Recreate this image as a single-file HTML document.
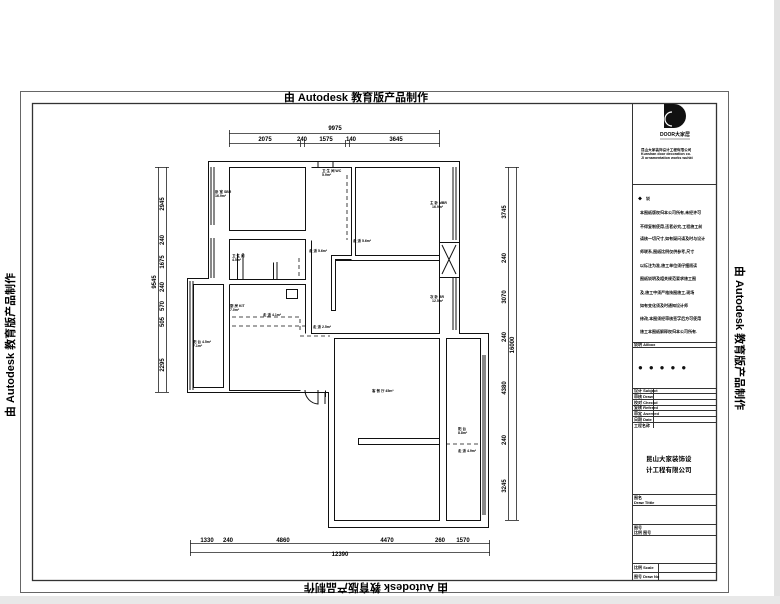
<!DOCTYPE html>
<html><head><meta charset="utf-8"><style>
html,body{margin:0;padding:0;background:#fff;}
svg{display:block;font-family:"Liberation Sans","Noto Sans CJK SC",sans-serif;}
</style></head><body>
<svg width="780" height="604" viewBox="0 0 780 604" xmlns="http://www.w3.org/2000/svg">
<rect x="0" y="0" width="780" height="604" fill="#fff"/>
<rect x="774" y="0" width="6" height="604" fill="#e2e2e2"/>
<rect x="0" y="596" width="780" height="8" fill="#e8e8e8"/>
<!-- frames -->
<rect x="20.5" y="91.5" width="708" height="501" fill="none" stroke="#666" stroke-width="1"/>
<rect x="32.5" y="103.5" width="684" height="477" fill="none" stroke="#333" stroke-width="1.3"/>
<!-- watermark texts -->
<text x="356" y="101" font-size="11" font-weight="bold" text-anchor="middle">由 Autodesk 教育版产品制作</text>
<text transform="translate(376,584) rotate(180)" font-size="11" font-weight="bold" text-anchor="middle">由 Autodesk 教育版产品制作</text>
<text transform="translate(14,345) rotate(-90)" font-size="11" font-weight="bold" text-anchor="middle">由 Autodesk 教育版产品制作</text>
<text transform="translate(736,338) rotate(90)" font-size="11" font-weight="bold" text-anchor="middle">由 Autodesk 教育版产品制作</text>

<!-- title block -->
<g stroke="#333" stroke-width="1" fill="none">
<line x1="632.5" y1="103" x2="632.5" y2="580"/>
<line x1="632" y1="184.5" x2="716" y2="184.5"/>
<line x1="632" y1="342.5" x2="716" y2="342.5"/>
<line x1="632" y1="347.5" x2="716" y2="347.5"/>
<line x1="632" y1="388.5" x2="716" y2="388.5"/>
<line x1="632" y1="393.5" x2="716" y2="393.5"/>
<line x1="632" y1="399.5" x2="716" y2="399.5"/>
<line x1="632" y1="405.5" x2="716" y2="405.5"/>
<line x1="632" y1="410.5" x2="716" y2="410.5"/>
<line x1="632" y1="416.5" x2="716" y2="416.5"/>
<line x1="632" y1="422.5" x2="716" y2="422.5"/>
<line x1="653.5" y1="388" x2="653.5" y2="428"/>
<line x1="632" y1="494.5" x2="716" y2="494.5"/>
<line x1="632" y1="505.5" x2="716" y2="505.5"/>
<line x1="632" y1="524.5" x2="716" y2="524.5"/>
<line x1="632" y1="535.5" x2="716" y2="535.5"/>
<line x1="632" y1="563.5" x2="716" y2="563.5"/>
<line x1="632" y1="572.5" x2="716" y2="572.5"/>
<line x1="658.5" y1="563" x2="658.5" y2="580"/>
</g>
<path d="M664 104 h10 a12 12 0 0 1 0 24 h-10 z" fill="#111"/>
<path d="M672 112 a7 7 0 0 0 0 14" fill="none" stroke="#fff" stroke-width="1.2"/>
<text x="675" y="136" font-size="5" font-weight="bold" text-anchor="middle">DOOR大家居</text>
<line x1="660" y1="139" x2="690" y2="139" stroke="#333" stroke-width="0.6"/>
<g font-size="3.6" font-weight="bold">
<text x="641" y="151">昆山大家装饰设计工程有限公司</text>
<text x="641" y="155">Kunshan door decoration co.</text>
<text x="641" y="159">Jl ornamentation works wuhkt</text>
</g>
<g font-size="4" font-weight="bold">
<text x="638" y="200">◆　说</text>
<text x="640" y="214">本图纸版权归本公司所有,未经许可</text>
<text x="640" y="228">不得复制使用,违者必究,工程施工前</text>
<text x="640" y="240">请核一切尺寸,如有疑问请及时与设计</text>
<text x="640" y="253">师联系,图纸比例仅供参考,尺寸</text>
<text x="640" y="267">以标注为准,施工单位须仔细阅读</text>
<text x="640" y="280">图纸说明及相关规范要求施工图</text>
<text x="640" y="294">及,施工中须严格按图施工,现场</text>
<text x="640" y="307">如有变化须及时通知设计师</text>
<text x="640" y="320">修改,本图须经审核签字后方可使用</text>
<text x="640" y="333">施工本图纸解释权归本公司所有.</text>
<text x="634" y="346">说明 Allbox</text>
<text x="634" y="392">设计 Subject</text>
<text x="634" y="398">审核 Draw</text>
<text x="634" y="404">校对 Checkd</text>
<text x="634" y="409">复核 Refered</text>
<text x="634" y="415">审定 Aserved</text>
<text x="634" y="421">日期 Date</text>
<text x="634" y="427">工程名称</text>
<text x="634" y="499">图名</text>
<text x="634" y="504">Draw Tittle</text>
<text x="634" y="529">图号</text>
<text x="634" y="534">比例 图号</text>
<text x="634" y="569">比例 Scale</text>
<text x="634" y="578">图号 Draw No</text>
</g>
<g font-size="8" fill="#111"><text x="638" y="370" letter-spacing="6">●●●●●</text></g>
<text x="646" y="461" font-size="6.5" font-weight="bold">昆山大家装饰设</text>
<text x="646" y="472" font-size="6.5" font-weight="bold">计工程有限公司</text>

<!-- dimensions -->
<g stroke="#222" stroke-width="0.8" fill="none">
<line x1="229" y1="133.5" x2="440" y2="133.5"/>
<line x1="229" y1="143.5" x2="440" y2="143.5"/>
<line x1="229.5" y1="130" x2="229.5" y2="147"/>
<line x1="439.5" y1="130" x2="439.5" y2="147"/>
<line x1="300.5" y1="140" x2="300.5" y2="147"/><line x1="304.5" y1="140" x2="304.5" y2="147"/>
<line x1="345.5" y1="140" x2="345.5" y2="147"/><line x1="349.5" y1="140" x2="349.5" y2="147"/>
<line x1="508.5" y1="167" x2="508.5" y2="520"/>
<line x1="516.5" y1="167" x2="516.5" y2="520"/>
<line x1="505" y1="167.5" x2="519" y2="167.5"/><line x1="505" y1="520.5" x2="519" y2="520.5"/>
<line x1="158.5" y1="167" x2="158.5" y2="392"/>
<line x1="166.5" y1="167" x2="166.5" y2="392"/>
<line x1="155" y1="167.5" x2="169" y2="167.5"/><line x1="155" y1="392.5" x2="169" y2="392.5"/>
<line x1="190" y1="543.5" x2="490" y2="543.5"/>
<line x1="190" y1="552.5" x2="490" y2="552.5"/>
<line x1="190.5" y1="540" x2="190.5" y2="556"/><line x1="489.5" y1="540" x2="489.5" y2="556"/>
</g>
<g font-size="6" font-weight="bold" text-anchor="middle">
<text x="335" y="130">9975</text>
<text x="265" y="141">2075</text><text x="302" y="141">240</text><text x="326" y="141">1575</text><text x="351" y="141">140</text><text x="396" y="141">3645</text>
<text x="207" y="542">1330</text><text x="228" y="542">240</text><text x="283" y="542">4860</text><text x="387" y="542">4470</text><text x="440" y="542">260</text><text x="463" y="542">1570</text>
<text x="340" y="556">12390</text>
</g>
<g font-size="6" font-weight="bold" text-anchor="middle">
<text transform="translate(506,212) rotate(-90)">3745</text>
<text transform="translate(506,258) rotate(-90)">240</text>
<text transform="translate(506,297) rotate(-90)">3070</text>
<text transform="translate(506,337) rotate(-90)">240</text>
<text transform="translate(506,388) rotate(-90)">4380</text>
<text transform="translate(506,440) rotate(-90)">240</text>
<text transform="translate(506,486) rotate(-90)">3245</text>
<text transform="translate(514,345) rotate(-90)">16000</text>
<text transform="translate(156,282) rotate(-90)">9545</text>
<text transform="translate(164,204) rotate(-90)">2945</text>
<text transform="translate(164,240) rotate(-90)">240</text>
<text transform="translate(164,262) rotate(-90)">1675</text>
<text transform="translate(164,287) rotate(-90)">240</text>
<text transform="translate(164,306) rotate(-90)">570</text>
<text transform="translate(164,322) rotate(-90)">505</text>
<text transform="translate(164,365) rotate(-90)">2295</text>
</g>

<!-- floor plan walls -->
<g stroke="#111" stroke-width="1" fill="none">
<!-- outer -->
<path d="M208.5 161.5 H459.5 V333.5 H488.5 V527.5 H328.5 V392.5 H187.5 V278.5 H208.5 Z"/>
<!-- inner perimeter pieces -->
<path d="M229.5 167.5 H305.5 V230.5 H229.5 Z"/>
<path d="M311.5 167.5 H351.5 V255.5 H331.5 V310.5 H335.5 V259.5 H351.5"/>
<path d="M355.5 167.5 H439.5 V255.5 H355.5 Z"/>
<path d="M439.5 242.5 H459.5 V277.5 H439.5 Z"/>
<path d="M442 245 L456 274 M456 245 L442 274"/>
<path d="M335.5 260.5 H439.5 V333.5 H311.5 V240.5"/>
<path d="M229.5 239.5 H305.5 V279.5 H229.5 Z"/>
<path d="M229.5 284.5 H305.5 V333.5"/>
<path d="M229.5 284.5 V390.5 H300.5"/>
<path d="M223.5 284.5 V387.5 H193.5 V284.5 Z"/>
<path d="M325.5 390.5 V397"/>
<path d="M334.5 338.5 H439.5 V520.5 H334.5 Z"/>
<path d="M446.5 338.5 H480.5 V520.5 H446.5 Z"/>
<path d="M358.5 438.5 H439.5 V444.5 H358.5 Z"/>
<path d="M237.5 253.5 V279 M243 253 V279"/>
<path d="M273.5 262.5 V279 M277 262 V279"/>
<path d="M286.5 289.5 H297.5 V298.5 H286.5 Z"/>
<!-- door -->
<path d="M305 390 A14 14 0 0 0 318 404 V390"/>
<path d="M325 392 V404"/>
<!-- window bars -->
<path d="M211 167 V225 M214 167 V225 M211 238 V278 M214 238 V278 M190 281 V390 M193 281 V390"/>
<path d="M453 167 V240 M456 167 V240 M453 278 V330 M456 278 V330 M483 355 V515 M485 355 V515"/>
<path d="M318 161 V167 M333 161 V167"/>
</g>
<!-- dashed -->
<g stroke="#111" stroke-width="0.8" fill="none" stroke-dasharray="4,3">
<path d="M347 175 V240"/>
<path d="M299 258 V279"/>
<path d="M232 317 H300 V333"/>
<path d="M232 326 H306"/>
<path d="M300 336 H330"/>
<path d="M446 444 H480"/>
</g>
<!-- room labels -->
<g font-size="3.5" font-weight="bold">
<text x="215" y="193">卧 室 SBR</text><text x="215" y="197">16.9m²</text>
<text x="322" y="172">卫 生 间 WC</text><text x="322" y="176">5.9m²</text>
<text x="430" y="204">主 卧 MBR</text><text x="432" y="208">16.9m²</text>
<text x="353" y="242">走 道 5.6m²</text>
<text x="309" y="252">走 道 5.6m²</text>
<text x="232" y="257">卫 生 间</text><text x="232" y="261">4.5m²</text>
<text x="230" y="307">厨 房 KIT</text><text x="230" y="311">7.0m²</text>
<text x="263" y="316">走 道 4.1m²</text>
<text x="313" y="328">走 道 2.5m²</text>
<text x="193" y="343">阳 台 4.5m²</text><text x="193" y="347">7.1m²</text>
<text x="430" y="298">次 卧 BR</text><text x="432" y="302">12.5m²</text>
<text x="372" y="392">客 餐 厅 45m²</text>
<text x="458" y="430">阳 台</text><text x="458" y="434">8.8m²</text>
<text x="458" y="452">走 道 4.9m²</text>
</g>
</svg>
</body></html>
